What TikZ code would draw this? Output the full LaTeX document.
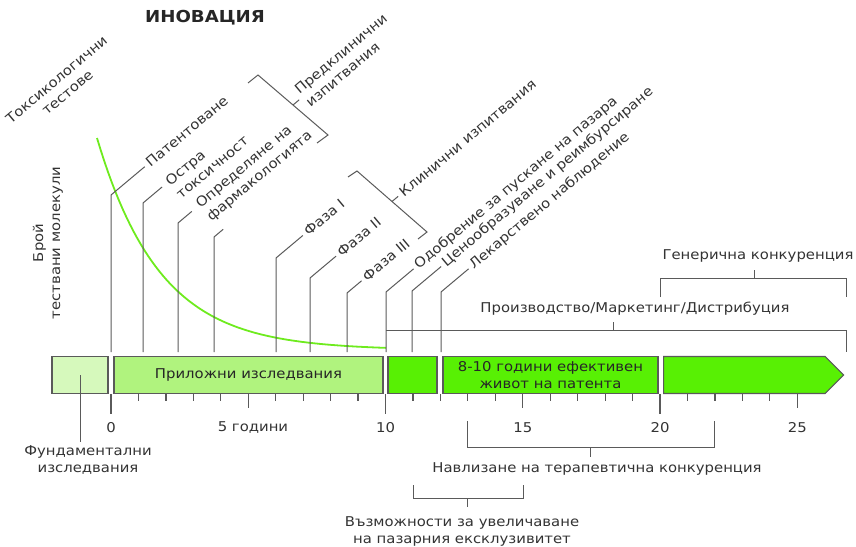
\documentclass[tikz,border=0pt]{standalone}
\usepackage{fontspec}
\setmainfont{DejaVu Sans}[FakeStretch=1.1]
\usetikzlibrary{shapes.symbols,positioning,calc}
\definecolor{fundgreen}{RGB}{214,249,188}
\definecolor{appgreen}{RGB}{176,243,126}
\definecolor{brightgreen}{RGB}{88,240,4}
\definecolor{curvegreen}{RGB}{110,235,30}
\definecolor{linegray}{RGB}{90,90,90}
\newcommand\lbfont{\fontsize{13.5}{17}\selectfont}
\tikzset{
  seg/.style={draw=linegray, line width=1.1pt, minimum height=37pt, inner sep=0pt, font=\lbfont, text=black!85},
  lead/.style={draw=linegray, line width=1pt},
  brk/.style={draw=linegray, line width=1pt},
  tck/.style={draw=linegray, line width=1.2pt},
  lab/.style={rotate=40, anchor=west, align=left, font=\lbfont, text=black!80},
  hlab/.style={font=\lbfont, align=center, text=black!80}
}

\begin{document}
\begin{tikzpicture}[x=1pt, y=-1pt]
  \useasboundingbox (0,0) rectangle (856,546);
  \node[font=\bfseries\fontsize{16.5}{20}\selectfont, text=black!85] (title) at (205,18) {ИНОВАЦИЯ};
  % timeline bar
  \node[seg, fill=fundgreen, minimum width=56pt] (fund) at (80,375) {};
  \node[seg, fill=appgreen, minimum width=269pt] (appl) at (248.5,375) {Приложни изследвания};
  \node[seg, fill=brightgreen, minimum width=49pt] (mkt) at (412.5,375) {};
  \node[seg, fill=brightgreen, minimum width=215pt, align=center] (patent) at (550.5,375) {8-10 години ефективен\\живот на патента};
  \node[seg, fill=brightgreen, signal, signal to=east, signal pointer angle=90, minimum width=180pt, anchor=west] (gener) at (663,375) {};
  % years
  \foreach \t in {0,...,25} \draw[tck] ({111+27.45*\t},394) -- ++(0,7);
  \foreach \t in {5,15,25} \draw[tck] ({111+27.45*\t},394) -- ++(0,14);
  \foreach \t in {0,10,20} \draw[tck] ({111+27.45*\t},394) -- ++(0,20);
  \foreach \t in {0,10,15,20,25} \node[hlab] (y\t) at ({111+27.45*\t},428) {\t};
  \node[hlab] (y5) at (253,428) {5 години};
  % number of molecules
  \draw[curvegreen, line width=1.8pt] plot[domain=97:386, samples=80] (\x, {350-212*exp(-0.0159*(\x-97))});
  \node[hlab, rotate=90] (countlab) at (48,243) {Брой\\тествани молекули};
  \node[hlab, rotate=40] (toxlab) at (62,86) {Токсикологични\\тестове};
  % leaders
  \foreach \x/\top/\len/\txt in {111/195/44/Патентоване, 276/258/35/Фаза I, 310/278/34/Фаза II, 347/293/19/Фаза III,
      386/292/36/Одобрение за пускане на пазара, 412/291/38/Ценообразуване и реимбурсиране, 441/292/36/Лекарствено наблюдение}
    \draw[lead] (\x,352) -- (\x,\top) -- ++(-40:\len) node[lab] (l\x) {\txt};
  \draw[lead] (143,352) -- (143,203) -- ++(-40:25) coordinate (acuteend);
  \node[lab] (acute) at ($(acuteend)+(50:8.5)+(-40:3)$) {Остра\\токсичност};
  \draw[lead] (178,352) -- (178,223) -- ++(-40:18) coordinate (pharmend);
  \node[lab] (pharm) at ($(pharmend)+(50:8.5)+(-40:5)$) {Определяне на\\фармакологията};
  \draw[lead] (214,352) -- (214,237) -- ++(-40:12);
  % groups
  \draw[brk] (248,83) -- (258,75) -- (328,135) -- (317,143);
  \draw[brk] (293,105) -- ++(-40:8) node[lab] (preclab) {Предклинични\\изпитвания};
  \draw[brk] (348,177) -- (357,171) -- (427,232) -- (418,239);
  \draw[brk] (392,201.5) -- ++(-40:8) node[lab] (cliniclab) {Клинични изпитвания};
  \node[hlab] (prodlab) at (635,309) {Производство/Маркетинг/Дистрибуция};
  \draw[brk] (386,330) -- (846,330) -- (846,352);
  \draw[brk] (613,330) -- (613,322);
  \node[hlab] (genlab) at (758,256) {Генерична конкуренция};
  \draw[brk] (660,297) -- (660,278) -- (846,278) -- (846,297);
  \draw[brk] (754,278) -- (754,270);
  % below the bar
  \node[hlab] (fundlab) at (88,460) {Фундаментални\\изследвания};
  \draw[lead] (fund.center) -- (fund.center |- fundlab.north);
  \node[hlab] (navlab) at (597,469) {Навлизане на терапевтична конкуренция};
  \draw[brk] (467,421) -- (467,447) -- (714,447) -- (714,421);
  \draw[brk] (590,447) -- (590,457);
  \node[hlab] (exclab) at (462,531) {Възможности за увеличаване\\на пазарния ексклузивитет};
  \draw[brk] (413,485) -- (413,498) -- (523,498) -- (523,485);
  \draw[brk] (467,498) -- (467,507);
\end{tikzpicture}
\end{document}
